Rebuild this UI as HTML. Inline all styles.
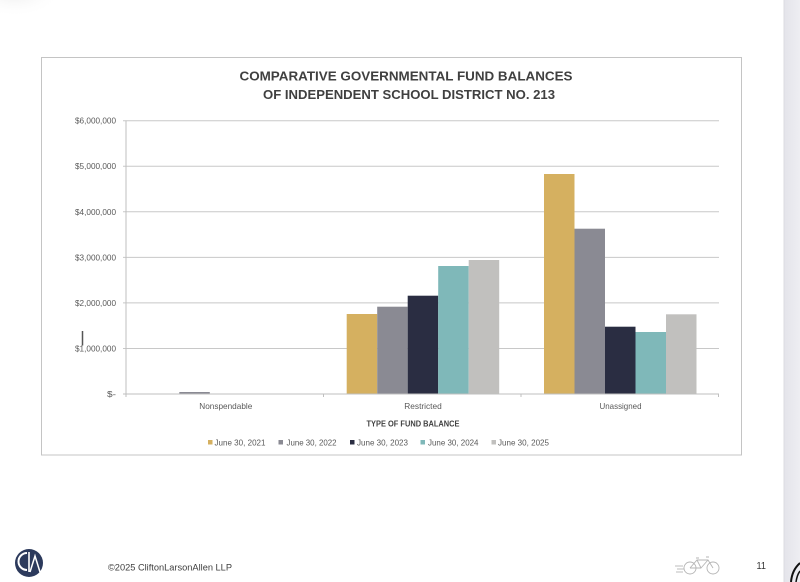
<!DOCTYPE html>
<html>
<head>
<meta charset="utf-8">
<style>
  html, body { margin:0; padding:0; background:#fff; }
  body { width:800px; height:582px; overflow:hidden; position:relative; }
  svg { display:block; }
  text { font-family: "Liberation Sans", "DejaVu Sans", sans-serif; }
</style>
</head>
<body>
<svg width="800" height="582" viewBox="0 0 800 582" xmlns="http://www.w3.org/2000/svg">
  <defs>
    <radialGradient id="shadow" cx="0.5" cy="0.3" r="0.6">
      <stop offset="0" stop-color="#ececec"/>
      <stop offset="1" stop-color="#ffffff" stop-opacity="0"/>
    </radialGradient>
    <linearGradient id="strip" x1="0" x2="1" y1="0" y2="0">
      <stop offset="0" stop-color="#e4e4ea"/>
      <stop offset="1" stop-color="#eeeef2"/>
    </linearGradient>
  </defs>
  <rect x="0" y="0" width="800" height="582" fill="#ffffff"/>
  <!-- faint top-left shadow -->
  <ellipse cx="15" cy="0" rx="40" ry="22" fill="url(#shadow)"/>
  <!-- right strip -->
  <rect x="784" y="0" width="16" height="582" fill="url(#strip)"/>
  <line x1="784" y1="0" x2="784" y2="582" stroke="#dcdce2" stroke-width="1"/>

  <!-- chart border -->
  <rect x="41.5" y="57.5" width="700" height="397.5" fill="#ffffff" stroke="#c4c4c4" stroke-width="1"/>

  <!-- title -->
  <text x="406" y="80.7" font-size="13" font-weight="bold" fill="#404040" text-anchor="middle" textLength="333" lengthAdjust="spacingAndGlyphs">COMPARATIVE GOVERNMENTAL FUND BALANCES</text>
  <text x="409" y="99" font-size="13" font-weight="bold" fill="#404040" text-anchor="middle" textLength="292" lengthAdjust="spacingAndGlyphs">OF INDEPENDENT SCHOOL DISTRICT NO. 213</text>

  <!-- gridlines -->
  <g stroke="#c8c8c8" stroke-width="1">
    <line x1="123" y1="120.7" x2="719" y2="120.7"/>
    <line x1="123" y1="166.2" x2="719" y2="166.2"/>
    <line x1="123" y1="211.8" x2="719" y2="211.8"/>
    <line x1="123" y1="257.4" x2="719" y2="257.4"/>
    <line x1="123" y1="302.9" x2="719" y2="302.9"/>
    <line x1="123" y1="348.5" x2="719" y2="348.5"/>
  </g>

  <!-- y labels -->
  <g font-size="8.5" fill="#595959" text-anchor="end">
    <text x="116" y="123.7" textLength="41" lengthAdjust="spacingAndGlyphs">$6,000,000</text>
    <text x="116" y="169.2" textLength="41" lengthAdjust="spacingAndGlyphs">$5,000,000</text>
    <text x="116" y="214.8" textLength="41" lengthAdjust="spacingAndGlyphs">$4,000,000</text>
    <text x="116" y="260.4" textLength="41" lengthAdjust="spacingAndGlyphs">$3,000,000</text>
    <text x="116" y="305.9" textLength="41" lengthAdjust="spacingAndGlyphs">$2,000,000</text>
    <text x="116" y="351.5" textLength="41" lengthAdjust="spacingAndGlyphs">$1,000,000</text>
    <text x="116" y="397" textLength="9" lengthAdjust="spacingAndGlyphs">$-</text>
  </g>
  <!-- odd mark -->
  <line x1="82.5" y1="331" x2="82.5" y2="345.5" stroke="#555" stroke-width="1.5"/>

  <!-- bars: Nonspendable -->
  <rect x="179.3" y="392" width="30.5" height="2" fill="#8a8a93"/>

  <!-- Restricted -->
  <rect x="346.7" y="314" width="30.5" height="80" fill="#d5b060"/>
  <rect x="377.2" y="306.7" width="30.5" height="87.3" fill="#8a8a93"/>
  <rect x="407.7" y="295.7" width="30.5" height="98.3" fill="#2a2d42"/>
  <rect x="438.2" y="266" width="30.5" height="128" fill="#7fb8b9"/>
  <rect x="468.7" y="260" width="30.5" height="134" fill="#c1c0be"/>

  <!-- Unassigned -->
  <rect x="544" y="174" width="30.5" height="220" fill="#d5b060"/>
  <rect x="574.5" y="228.7" width="30.5" height="165.3" fill="#8a8a93"/>
  <rect x="605" y="326.7" width="30.5" height="67.3" fill="#2a2d42"/>
  <rect x="635.5" y="332" width="30.5" height="62" fill="#7fb8b9"/>
  <rect x="666" y="314.3" width="30.5" height="79.7" fill="#c1c0be"/>

  <!-- axes -->
  <g stroke="#bfbfbf" stroke-width="1">
    <line x1="126" y1="120.7" x2="126" y2="394"/>
    <line x1="123" y1="394" x2="719" y2="394"/>
    <line x1="126" y1="394" x2="126" y2="397"/>
    <line x1="323.5" y1="394" x2="323.5" y2="397"/>
    <line x1="521" y1="394" x2="521" y2="397"/>
    <line x1="718.5" y1="394" x2="718.5" y2="397"/>
  </g>

  <!-- category labels -->
  <g font-size="8.5" fill="#595959" text-anchor="middle">
    <text x="225.8" y="409" textLength="53" lengthAdjust="spacingAndGlyphs">Nonspendable</text>
    <text x="423" y="409" textLength="37.5" lengthAdjust="spacingAndGlyphs">Restricted</text>
    <text x="620.5" y="409" textLength="42" lengthAdjust="spacingAndGlyphs">Unassigned</text>
  </g>
  <text x="413" y="426.5" font-size="8" font-weight="bold" fill="#404040" text-anchor="middle" textLength="93" lengthAdjust="spacingAndGlyphs">TYPE OF FUND BALANCE</text>

  <!-- legend -->
  <g font-size="8.5" fill="#595959">
    <rect x="208" y="440" width="4.5" height="4.5" fill="#d5b060"/>
    <text x="214.5" y="445.3" textLength="51" lengthAdjust="spacingAndGlyphs">June 30, 2021</text>
    <rect x="278.5" y="440" width="4.5" height="4.5" fill="#8a8a93"/>
    <text x="286.5" y="445.3" textLength="50" lengthAdjust="spacingAndGlyphs">June 30, 2022</text>
    <rect x="350" y="440" width="4.5" height="4.5" fill="#2a2d42"/>
    <text x="357" y="445.3" textLength="51" lengthAdjust="spacingAndGlyphs">June 30, 2023</text>
    <rect x="420.5" y="440" width="4.5" height="4.5" fill="#7fb8b9"/>
    <text x="428" y="445.3" textLength="50.5" lengthAdjust="spacingAndGlyphs">June 30, 2024</text>
    <rect x="491.5" y="440" width="4.5" height="4.5" fill="#c1c0be"/>
    <text x="498" y="445.3" textLength="51" lengthAdjust="spacingAndGlyphs">June 30, 2025</text>
  </g>

  <!-- footer logo -->
  <circle cx="29" cy="563" r="14" fill="#2c3a5c"/>
  <path d="M27 553 a8 8 0 1 0 0 17" fill="none" stroke="#ffffff" stroke-width="2"/>
  <line x1="29" y1="552" x2="29" y2="572" stroke="#ffffff" stroke-width="1.6"/>
  <path d="M30 572 L35 556 L40 572" fill="none" stroke="#ffffff" stroke-width="1.5"/>
  <text x="108" y="570.5" font-size="9" fill="#404040" textLength="124" lengthAdjust="spacingAndGlyphs">©2025 CliftonLarsonAllen LLP</text>

  <!-- bike icon -->
  <g stroke="#b5b5b5" stroke-width="0.9" fill="none">
    <line x1="675" y1="566" x2="683" y2="566"/>
    <line x1="677" y1="569" x2="684" y2="569"/>
    <line x1="676" y1="572" x2="683" y2="572"/>
    <circle cx="690" cy="568" r="6"/>
    <circle cx="713" cy="568" r="6"/>
    <path d="M690 568 L697 560 L708 560 L713 568 M697 560 L701 568 L708 560 M701 568 L690 568 M696 558 L699 558 M706 557 L709 557"/>
  </g>
  <text x="756.5" y="569" font-size="10" fill="#333" font-family="Liberation Serif, serif" textLength="9.5" lengthAdjust="spacingAndGlyphs">11</text>

  <!-- bottom-right curve -->
  <path d="M791 582 Q792 570 800 563" fill="none" stroke="#111" stroke-width="2"/>
  <path d="M796 582 Q797 575 800 571" fill="none" stroke="#111" stroke-width="1.5"/>
</svg>
</body>
</html>
